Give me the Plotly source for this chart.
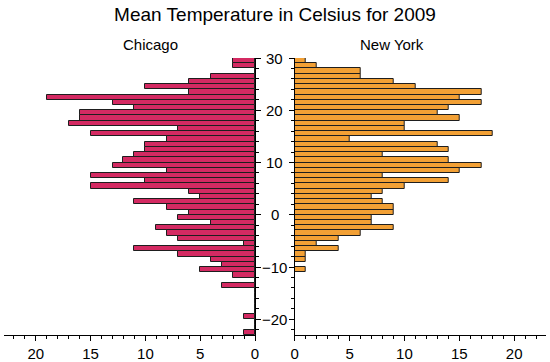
import plotly.graph_objects as go
import numpy as np

# Temperature bins (lower edge, °C), 1-degree wide, from top to bottom
bin_lower = list(range(29, -24, -1))

chicago_counts = [2, 2, 0, 4, 6, 10, 6, 19, 13, 11,
                  16, 16, 17, 7, 15, 8, 10, 10, 11, 12,
                  13, 8, 15, 10, 15, 6, 5, 11, 8, 6,
                  7, 4, 9, 8, 7, 1, 11, 7, 4, 3,
                  5, 2, 0, 3, 0, 0, 0, 0, 0, 1,
                  0, 0, 1]

newyork_counts = [1, 2, 6, 6, 9, 11, 17, 15, 17, 14,
                  13, 15, 10, 10, 18, 5, 13, 14, 8, 14,
                  17, 15, 8, 14, 10, 8, 7, 8, 9, 9,
                  7, 7, 9, 6, 4, 2, 4, 1, 1, 0,
                  1, 0, 0, 0, 0, 0, 0, 0, 0, 0,
                  0, 0, 0]

ytick_vals = [-20, -10, 0, 10, 20, 30]
city_names = ["Chicago", "New York"]
title_text = "Mean Temperature in Celsius for 2009"

centers = np.array(bin_lower) + 0.5

W, H = 550, 362
d1_end = 254.7 / W
d2_start = 295.0 / W

line_col = "rgb(30,30,30)"
fig = go.Figure()
fig.add_trace(go.Bar(x=chicago_counts, y=centers, orientation="h", width=1,
                     marker=dict(color="#D42A62", line=dict(color=line_col, width=1)),
                     xaxis="x", yaxis="y", showlegend=False))
fig.add_trace(go.Bar(x=newyork_counts, y=centers, orientation="h", width=1,
                     marker=dict(color="#F2A035", line=dict(color=line_col, width=1)),
                     xaxis="x2", yaxis="y2", showlegend=False))

tickfont = dict(family="Liberation Sans, Arial, sans-serif", size=15, color="black")
xcommon = dict(showline=True, linecolor="black", linewidth=1, ticks="outside",
               ticklen=5, tickcolor="black", dtick=5, tickfont=tickfont,
               showgrid=False, zeroline=False,
               minor=dict(dtick=1, ticks="outside", ticklen=3, tickcolor="black"))
ycommon = dict(showline=True, linecolor="black", linewidth=1, ticks="outside",
               ticklen=5, tickcolor="black", dtick=10, showticklabels=False,
               range=[-23, 30], showgrid=False, zeroline=False,
               minor=dict(dtick=2, ticks="outside", ticklen=3, tickcolor="black"))

fig.update_layout(
    width=W, height=H,
    margin=dict(l=0, r=0, t=58, b=27),
    plot_bgcolor="white", paper_bgcolor="white",
    bargap=0,
    title=dict(text=title_text, x=0.5, xanchor="center", y=1 - 14 / H,
               yref="container", yanchor="middle",
               font=dict(family="Liberation Sans, Arial, sans-serif", size=19, color="black")),
    xaxis=dict(domain=[0, d1_end], range=[22.9, 0], anchor="y", **xcommon),
    yaxis=dict(anchor="x", side="right", **ycommon),
    xaxis2=dict(domain=[d2_start, 1], range=[0, 22.9], anchor="y2", **xcommon),
    yaxis2=dict(anchor="x2", side="left", **ycommon),
)

annos = []
for v in ytick_vals:
    annos.append(dict(x=(d1_end + d2_start) / 2, xref="paper", y=v, yref="y",
                      text=str(v).replace("-", "\u2212"), showarrow=False,
                      xanchor="center", yanchor="middle", font=tickfont))
sub_x = [148.7 / W, 394 / W]
for name, sx in zip(city_names, sub_x):
    annos.append(dict(x=sx, xref="paper", y=1.048, yref="paper", text=name,
                      showarrow=False, xanchor="center", yanchor="middle",
                      font=dict(family="Liberation Sans, Arial, sans-serif", size=15, color="black")))
fig.update_layout(annotations=annos)

fig.write_html("out.html",
               config={"displayModeBar": False},
               post_script="document.body.style.margin='0';document.body.style.overflow='hidden';")
